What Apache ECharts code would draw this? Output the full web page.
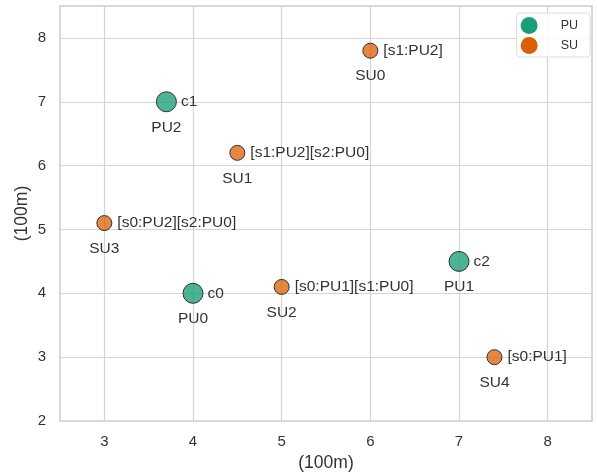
<!DOCTYPE html>
<html><head><meta charset="utf-8">
<script src="https://cdn.jsdelivr.net/npm/echarts@6/dist/echarts.min.js"></script>
<style>html,body{margin:0;padding:0;background:#fff}#c{width:597px;height:473px}</style>
</head><body><div id="c"></div>
<script>
const puNames = ['PU0','PU1','PU2'];
const puX = [4, 7, 3.7];
const puY = [4, 4.5, 7];
const puText = ['c0','c2','c1'];
const suNames = ['SU0','SU1','SU2','SU3','SU4'];
const suX = [6, 4.5, 5, 3, 7.4];
const suY = [7.8, 6.2, 4.1, 5.1, 3];
const suText = ['[s1:PU2]','[s1:PU2][s2:PU0]','[s0:PU1][s1:PU0]','[s0:PU2][s2:PU0]','[s0:PU1]'];
const xTicks = [3,4,5,6,7,8];
const yTicks = [2,3,4,5,6,7,8];

const FONT = 'Liberation Sans, Arial, sans-serif';
const txt = '#333333';
const LBL = 15.5;
function pts(xs, ys, extra) { return xs.map((x,i)=>({value:[x, ys[i]], extra: extra[i]})); }

const gridLines = xTicks.map(v=>({xAxis:v})).concat(yTicks.filter(v=>v>2).map(v=>({yAxis:v})));

const chart = echarts.init(document.getElementById('c'));
chart.setOption({
  animation:false,
  backgroundColor:'#fff',
  grid:{left:60,right:5,top:6,bottom:52,show:true,borderColor:'#cccccc',borderWidth:1.5,
    containLabel:false,outerBoundsMode:'none'},
  legend:{
    data:[{name:'PU',icon:'circle',itemStyle:{borderWidth:0,color:'#1b9e77'}},{name:'SU',icon:'circle',itemStyle:{borderWidth:0,color:'#d95f02'}}],
    orient:'vertical', right:7, top:13, itemWidth:17, itemHeight:17, itemGap:3,
    backgroundColor:'rgba(255,255,255,0.85)', borderColor:'#dddddd', borderWidth:1, borderRadius:3,
    padding:[4,12,3,4],
    textStyle:{fontFamily:FONT,fontSize:12.5,color:txt,padding:[0,0,0,18]}
  },
  xAxis:{type:'value',min:2.5,max:8.5,interval:0.5,
    name:'(100m)',nameLocation:'middle',nameGap:32,nameTextStyle:{fontFamily:FONT,fontSize:17.5,color:txt},
    axisLine:{show:false},axisTick:{show:false},
    axisLabel:{fontFamily:FONT,fontSize:15,color:txt,margin:13,
      formatter:v=> xTicks.includes(v)?String(v):''},
    splitLine:{show:false}
  },
  yAxis:{type:'value',min:2,max:8.5,interval:0.5,
    name:'(100m)',nameLocation:'middle',nameGap:29,nameMoveOverlap:false,nameTextStyle:{fontFamily:FONT,fontSize:17.5,color:txt},
    axisLine:{show:false},axisTick:{show:false},
    axisLabel:{fontFamily:FONT,fontSize:15,color:txt,margin:14,
      formatter:v=> yTicks.includes(v)?String(v):''},
    splitLine:{show:false}
  },
  series:[
    {name:'grid',type:'scatter',data:[],z:1,silent:true,
      markLine:{silent:true,z:1,symbol:['none','none'],label:{show:false},
        lineStyle:{color:'#d4d4d4',width:1.2,type:'solid'},emphasis:{disabled:true},
        data:gridLines}},
    {name:'PU',type:'scatter',symbolSize:20,z:3,
      itemStyle:{color:'rgba(27,158,119,0.78)',borderColor:'#333',borderWidth:1,opacity:1},
      label:{show:true,position:'right',distance:4,fontFamily:FONT,fontSize:LBL,color:txt,formatter:p=>p.data.extra},
      data:pts(puX,puY,puText)},
    {name:'SU',type:'scatter',symbolSize:15,z:3,
      itemStyle:{color:'rgba(217,95,2,0.75)',borderColor:'#333',borderWidth:1,opacity:1},
      label:{show:true,position:'right',distance:5,fontFamily:FONT,fontSize:LBL,color:txt,formatter:p=>p.data.extra},
      data:pts(suX,suY,suText)},
    {name:'PU names',type:'scatter',symbolSize:1,z:4,itemStyle:{color:'rgba(0,0,0,0)'},silent:true,
      label:{show:true,position:'bottom',distance:17,fontFamily:FONT,fontSize:LBL,color:txt,opacity:1,formatter:p=>p.data.extra},
      data:pts(puX,puY,puNames)},
    {name:'SU names',type:'scatter',symbolSize:1,z:4,itemStyle:{color:'rgba(0,0,0,0)'},silent:true,
      label:{show:true,position:'bottom',distance:17,fontFamily:FONT,fontSize:LBL,color:txt,opacity:1,formatter:p=>p.data.extra},
      data:pts(suX,suY,suNames)}
  ]
});
</script></body></html>
